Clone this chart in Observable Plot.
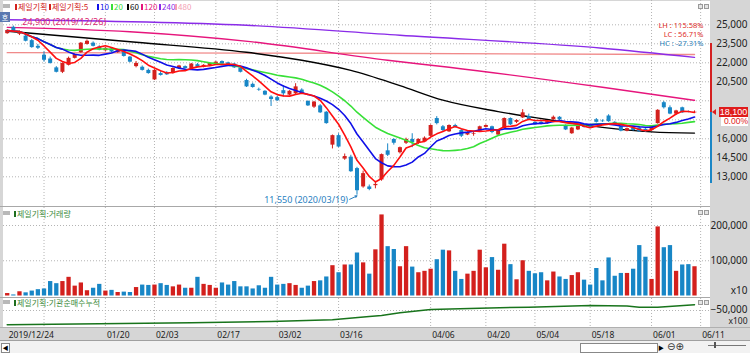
<!DOCTYPE html>
<html><head><meta charset="utf-8">
<script src="https://cdn.jsdelivr.net/npm/d3@7"></script>
<script src="https://cdn.jsdelivr.net/npm/@observablehq/plot@0.6"></script>
<style>
body{margin:0;background:#fff;}
#root{position:relative;width:750px;height:353px;overflow:hidden;background:#d6d6d6;font-family:"Liberation Sans","Noto Sans CJK KR",sans-serif;}
.a{position:absolute;}
.kr{font-family:"Noto Sans CJK KR",sans-serif;white-space:nowrap;}
</style></head><body><div id="root"></div>
<script>
// ---------------- DATA ----------------
const dates = ["2019/12/24","2019/12/26","2019/12/27","2019/12/30",
"2020/01/02","2020/01/03","2020/01/06","2020/01/07","2020/01/08","2020/01/09","2020/01/10","2020/01/13","2020/01/14","2020/01/15","2020/01/16","2020/01/17","2020/01/20","2020/01/21","2020/01/22","2020/01/23","2020/01/28","2020/01/29","2020/01/30","2020/01/31",
"2020/02/03","2020/02/04","2020/02/05","2020/02/06","2020/02/07","2020/02/10","2020/02/11","2020/02/12","2020/02/13","2020/02/14","2020/02/17","2020/02/18","2020/02/19","2020/02/20","2020/02/21","2020/02/24","2020/02/25","2020/02/26","2020/02/27","2020/02/28",
"2020/03/02","2020/03/03","2020/03/04","2020/03/05","2020/03/06","2020/03/09","2020/03/10","2020/03/11","2020/03/12","2020/03/13","2020/03/16","2020/03/17","2020/03/18","2020/03/19","2020/03/20","2020/03/23","2020/03/24","2020/03/25","2020/03/26","2020/03/27","2020/03/30","2020/03/31",
"2020/04/01","2020/04/02","2020/04/03","2020/04/06","2020/04/07","2020/04/08","2020/04/09","2020/04/10","2020/04/13","2020/04/14","2020/04/16","2020/04/17","2020/04/20","2020/04/21","2020/04/22","2020/04/23","2020/04/24","2020/04/27","2020/04/28","2020/04/29",
"2020/05/04","2020/05/06","2020/05/07","2020/05/08","2020/05/11","2020/05/12","2020/05/13","2020/05/14","2020/05/15","2020/05/18","2020/05/19","2020/05/20","2020/05/21","2020/05/22","2020/05/25","2020/05/26","2020/05/27","2020/05/28","2020/05/29",
"2020/06/01","2020/06/02","2020/06/03","2020/06/04","2020/06/05","2020/06/08","2020/06/09","2020/06/10"];

const open = [24300,24800,24250,24100,23750,23300,22600,22300,21600,21250,
21800,22350,22800,23450,23550,23250,22950,23100,22800,22850,
22450,21700,21650,21400,20650,21150,21200,21150,21550,21700,
21550,21850,21650,21750,21900,22100,22000,21900,21600,20600,
20300,19900,19750,19300,19250,19800,19450,19550,19850,18950,
18500,18600,18100,15500,16250,14400,14550,13650,12200,12200,
12300,12750,15050,15950,14900,15650,15950,15650,15750,16200,
17600,16950,16550,17050,16650,16300,16350,16600,16900,16950,
16300,16800,17600,17300,17650,17750,17300,17300,17200,17500,
17700,17050,16400,16700,17050,16950,17500,17400,17800,17300,
16950,16600,16850,16850,16750,16650,17200,18850,18450,17950,
18450,18150,18050];
const high = [24600,24900,24500,24200,23850,23450,22850,22450,21700,22000,
22450,22700,23600,23800,23650,23350,23200,23150,23000,22900,
22500,22100,21750,21500,21450,21300,21300,21600,21800,21750,
21950,21950,21850,22000,22100,22150,22050,21950,21650,20700,
20400,20000,19800,19400,19350,20200,19800,20350,19950,19000,
18950,18700,18150,16300,16400,14800,14700,13750,13450,12350,
12650,14800,15600,16000,15350,16050,16400,16000,16150,17100,
17750,17050,17100,17150,16750,16550,16600,17000,17100,17000,
16700,17650,17650,17500,18300,17950,17350,17400,17400,17800,
17750,17100,16900,17100,17100,17050,17600,17500,17900,17350,
17000,16850,16900,16950,16800,17000,18300,18950,18600,18250,
18500,18200,18200];
const low = [24250,24400,24150,23650,23150,23050,22050,21900,21200,21150,
21750,22300,22750,23400,23250,22950,22900,22800,22750,22450,
22000,21600,21350,21100,20600,20950,21000,21100,21500,21500,
21500,21600,21600,21700,21850,21850,21750,21550,21200,20050,
20000,19750,19400,18550,18950,19300,19400,19500,19500,18550,
18400,18000,17150,15200,15300,14300,13350,11550,12100,11900,
12050,12650,14600,15500,14800,15550,15300,15550,15700,16150,
17100,16550,16500,16850,16100,16250,16200,16550,16850,16400,
16250,16750,17050,17200,17600,17450,17050,17100,17150,17450,
17450,16650,16350,16650,16850,16850,17250,17300,17300,17050,
16550,16550,16600,16500,16500,16600,17150,18350,17900,17850,
18000,18050,18000];
const close = [24550,24450,24400,23700,23200,23150,22200,21950,21250,21950,
22350,22650,23550,23700,23300,23000,23150,22850,22950,22500,
22050,21950,21400,21150,21400,21000,21050,21550,21750,21550,
21900,21650,21800,21950,22050,21900,21800,21600,21250,20100,
20050,19850,19450,19100,19000,19550,19750,20100,19550,18600,
18900,18050,17200,16250,15350,14600,13400,11900,13250,12000,
12400,14750,14700,15650,15300,15950,15700,15950,16050,17050,
17200,16650,17050,16900,16200,16500,16400,16950,17050,16500,
16650,17600,17100,17450,18050,17500,17100,17150,17350,17700,
17500,16700,16850,17050,16900,16900,17300,17350,17350,17100,
16600,16800,16650,16550,16550,16950,18250,18450,17950,18200,
18050,18100,18100];
// volume, in thousands of the axis unit (axis shows x10)
const volume = [7,3,12,9,14,18,20,41,35,41,
53,28,37,15,22,33,14,16,10,11,
10,24,31,30,31,35,30,26,31,22,
22,53,33,30,22,37,31,41,26,26,
20,29,22,53,31,33,35,30,22,28,
41,43,54,86,66,88,88,122,94,62,
131,230,140,132,83,140,82,66,70,76,
103,130,128,70,47,62,70,130,80,109,
73,147,89,46,100,70,63,66,43,68,
54,47,58,66,45,31,78,43,108,56,
64,64,76,143,110,47,196,137,143,70,
88,89,83];

// long moving averages (day index, price)
const ma60Idx  = [0,21,39,48,56,64,71,80,89,97,105,112];
const ma60     = [24490,23620,22830,22200,21400,20200,19050,18150,17450,16900,16550,16450];
const ma120Idx = [0,20,40,62,72,97,112];
const ma120    = [24800,24450,23650,22200,21650,20070,19040];
const ma240Idx = [0,39,64,97,112];
const ma240    = [25400,24960,24170,23150,22430];
const ma480Idx = [0,56,112];
const ma480    = [22800,22750,22650];

// institution net-buy cumulative (x100)
const instIdx = [0,15,30,43,53,59,61,64,69,77,85,95,101,103,106,112];
const inst    = [-78600,-76600,-74600,-72000,-68600,-62000,-60000,-54600,-48000,-45400,-43400,-40000,-41000,-43400,-43400,-38600];

const tickIdx    = [0,16,24,34,44,54,69,78,86,95,105,113];
const tickLabels = ["2019/12/24","01/20","02/03","02/17","03/02","03/16","04/06","04/20","05/04","05/18","06/01","06/11"];
const gridIdx    = [6,16,24,34,44,54,69,78,86,95,105,113];
const priceTicks = [13000,14500,16000,17500,19000,20500,22000,23500,25000];
const volTicks   = [100,200];
const instTicks  = [-50000];
const legendLabels = ["제일기획","제일기획:5","10","20","60","120","240","480"];
const rangeBar = [23550, 12500];

// ---------------- STYLE ----------------
const RED = "#d3201d", BLUE = "#1886c6";
const FONT = '"Liberation Sans","Noto Sans CJK KR",sans-serif';
const C5 = "#ff0f0f", C10 = "#1010e8", C20 = "#38e038", C60 = "#000000", C120 = "#e6157c", C240 = "#8a2be8", C480 = "#f08a8a";
const legendColors = [RED, RED, C10, C20, C60, C120, C240, "#f4a0b4"];
const fmt = d3.format(",");

const candles = close.map((c, i) => ({i, o: open[i], h: high[i], l: low[i], c, v: volume[i], up: c >= open[i]}));
const col = d => d.up ? RED : BLUE;
const X = {type: "linear", domain: [0, 112], range: [6.7, 694.0], axis: null};
const grid = {stroke: "#b4b4b4", strokeOpacity: 1, strokeDasharray: "1,2"};
const axisR = {anchor: "right", tickSize: 0, tickPadding: 0, textAnchor: "end", dx: 37, fill: "#222", label: null};
const pts = (ix, vs) => ix.map((d, k) => ({i: d, v: vs[k]}));

const hiI = d3.maxIndex(high), loI = d3.minIndex(low);
const maxH = high[hiI], minL = low[loI], last = close[close.length - 1];
const pct = v => (v * 100).toFixed(2) + "%";
// the price label box on the axis hides the tick label under it
const priceLabelTicks = priceTicks.filter(t => Math.abs(t - last) > 1000);

const root = document.getElementById("root");
function div(css, html) { const e = document.createElement("div"); e.className = "a"; e.style.cssText = css; if (html != null) e.innerHTML = html; root.appendChild(e); return e; }

// panels
div("left:3px;top:1px;width:707px;height:205px;background:#fff;");
div("left:0;top:206px;width:710px;height:1px;background:#a8a8a8;");
div("left:3px;top:207px;width:707px;height:90px;background:#fff;");
div("left:0;top:297px;width:710px;height:1px;background:#a8a8a8;");
div("left:3px;top:298px;width:707px;height:29px;background:#fff;");
div("left:0;top:327px;width:750px;height:1px;background:#b0b0b0;");

// ---------------- MAIN ----------------
const main = Plot.plot({
  width: 750, height: 206, marginLeft: 3, marginRight: 40, marginTop: 0, marginBottom: 0,
  x: X,
  y: {domain: [13000, 25000], range: [176.3, 24.3], axis: null},
  style: {background: "transparent", fontFamily: FONT, fontSize: "9px", overflow: "visible"},
  marks: [
    Plot.gridY(priceTicks, grid),
    Plot.gridX(gridIdx, grid),
    Plot.axisY(priceLabelTicks, {...axisR, tickFormat: fmt}),
    Plot.line(pts(ma480Idx, ma480), {x: "i", y: "v", stroke: C480, strokeWidth: 1.4, curve: "monotone-x"}),
    Plot.line(pts(ma240Idx, ma240), {x: "i", y: "v", stroke: C240, strokeWidth: 1.4, curve: "monotone-x"}),
    Plot.line(pts(ma120Idx, ma120), {x: "i", y: "v", stroke: C120, strokeWidth: 1.4, curve: "monotone-x"}),
    Plot.line(pts(ma60Idx, ma60), {x: "i", y: "v", stroke: C60, strokeWidth: 1.4, curve: "monotone-x"}),
    Plot.ruleX(candles, {x: "i", y1: "l", y2: "h", stroke: col, strokeWidth: 1}),
    Plot.ruleX(candles, {x: "i", y1: "o", y2: "c", stroke: col, strokeWidth: 4}),
    Plot.lineY(candles, Plot.windowY({k: 20, anchor: "end"}, {x: "i", y: "c", stroke: C20, strokeWidth: 1.6})),
    Plot.lineY(candles, Plot.windowY({k: 10, anchor: "end"}, {x: "i", y: "c", stroke: C10, strokeWidth: 1.6})),
    Plot.lineY(candles, Plot.windowY({k: 5, anchor: "end"}, {x: "i", y: "c", stroke: C5, strokeWidth: 1.6})),
    Plot.text([hiI], {x: d => d, y: d => high[d], text: d => `${fmt(high[d])} (${dates[d]})`, textAnchor: "start", dx: 9, dy: -4, fill: "#dc2a72", fontSize: 9}),
    Plot.text([loI], {x: d => d, y: d => low[d], text: d => `${fmt(low[d])} (${dates[d]})`, textAnchor: "end", dx: -9, dy: 5, fill: "#2a7fbf", fontSize: 9}),
    Plot.arrow([loI], {x1: d => d - 1.2, y1: d => low[d] - 330, x2: d => d, y2: d => low[d] - 60, stroke: "#2a7fbf", strokeWidth: 1, headLength: 3, bend: false}),
    Plot.text([`LH : ${pct(maxH / minL - 1)}`], {frameAnchor: "top-right", text: d => d, textAnchor: "end", dx: -7, dy: 22, fill: "#e0302a", fontSize: 7.5}),
    Plot.text([`LC : ${pct(last / minL - 1)}`], {frameAnchor: "top-right", text: d => d, textAnchor: "end", dx: -7, dy: 31, fill: "#e0302a", fontSize: 7.5}),
    Plot.text([`HC : ${pct(last / maxH - 1)}`], {frameAnchor: "top-right", text: d => d, textAnchor: "end", dx: -7, dy: 40, fill: "#2a80b8", fontSize: 7.5})
  ]
});
main.style.cssText = "position:absolute;left:0;top:0;";
root.appendChild(main);

// ---------------- VOLUME ----------------
const volPlot = Plot.plot({
  width: 750, height: 90, marginLeft: 3, marginRight: 40, marginTop: 0, marginBottom: 0,
  x: X,
  y: {domain: [0, 200], range: [88.5, 18], axis: null},
  style: {background: "transparent", fontFamily: FONT, fontSize: "9px", overflow: "visible"},
  marks: [
    Plot.gridY(volTicks, grid),
    Plot.gridX(gridIdx, grid),
    Plot.axisY(volTicks, {...axisR, tickFormat: d => fmt(d * 1000)}),
    Plot.ruleX(candles, {x: "i", y1: 0, y2: "v", stroke: col, strokeWidth: 4.3}),
    Plot.text(["x10"], {frameAnchor: "bottom-right", text: d => d, textAnchor: "end", dx: 37, dy: -4, fill: "#222"})
  ]
});
volPlot.style.cssText = "position:absolute;left:0;top:207px;";
root.appendChild(volPlot);

// ---------------- INSTITUTION ----------------
const instPlot = Plot.plot({
  width: 750, height: 42, marginLeft: 3, marginRight: 40, marginTop: 0, marginBottom: 13,
  x: X,
  y: {domain: [-84000, -26000], range: [29, 0], axis: null},
  style: {background: "transparent", fontFamily: FONT, fontSize: "8.5px", overflow: "visible"},
  marks: [
    Plot.gridY(instTicks, grid),
    Plot.gridX(gridIdx, grid),
    Plot.axisY(instTicks, {...axisR, tickFormat: fmt, dy: -1}),
    Plot.line(pts(instIdx, inst), {x: "i", y: "v", stroke: "#18741c", strokeWidth: 1.5}),
    Plot.text(["x100"], {frameAnchor: "bottom-right", text: d => d, textAnchor: "end", dx: 37, dy: -3.5, fill: "#222", fontSize: 8.5}),
    Plot.axisX(tickIdx, {anchor: "bottom", tickSize: 0, tickPadding: 4, textAnchor: "start", dx: 1.5, fill: "#222", fontSize: 8.5, label: null,
      tickFormat: d => tickLabels[tickIdx.indexOf(d)]})
  ]
});
instPlot.style.cssText = "position:absolute;left:0;top:298px;";
root.appendChild(instPlot);

// ---------------- OVERLAYS ----------------
const ys = main.scale("y");
// legend
div("left:3px;top:4px;width:7px;height:4px;background:#b8b8b8;");
const legX = [15, 49, 97, 111, 127, 141, 159, 175];
legendLabels.forEach((t, k) => {
  div(`left:${legX[k]}px;top:4px;width:2px;height:6px;background:${legendColors[k]};`);
  div(`left:${legX[k] + 3}px;top:1px;font-size:8px;line-height:11px;color:${legendColors[k]};`, `<span class="kr">${t}</span>`);
});
div("left:0;top:12px;width:10px;height:10px;background:#5a78b0;color:#fff;font-size:7px;line-height:10px;text-align:center;", '<span class="kr">호</span>');
// window icons
[4, 210, 300].forEach(t => {
  div(`left:698px;top:${t}px;width:5px;height:5px;border:1px solid #9a9a9a;background:#e4e4e4;box-sizing:border-box;`);
  div(`left:704px;top:${t}px;width:5px;height:5px;border:1px solid #9a9a9a;background:#e4e4e4;box-sizing:border-box;`);
});
// panel titles
div("left:3px;top:211px;width:7px;height:4px;background:#b8b8b8;");
div("left:14px;top:211px;width:2px;height:6px;background:#1e6e1e;");
div("left:17px;top:208px;font-size:8px;line-height:11px;color:#3a8a3a;", '<span class="kr">제일기획:거래량</span>');
div("left:3px;top:300px;width:7px;height:4px;background:#b8b8b8;");
div("left:14px;top:300px;width:2px;height:6px;background:#1e6e1e;");
div("left:17px;top:297px;font-size:8px;line-height:11px;color:#3a8a3a;", '<span class="kr">제일기획:기관순매수누적</span>');
// range bar on the price axis
const yLast = ys.apply(last);
div(`left:710px;top:${ys.apply(rangeBar[0])}px;width:2px;height:${yLast - ys.apply(rangeBar[0])}px;background:#d42020;`);
div(`left:710px;top:${yLast}px;width:2px;height:${ys.apply(rangeBar[1]) - yLast}px;background:#1a86c6;`);
// last price box
div(`left:712px;top:${yLast - 3}px;width:0;height:0;border-top:3px solid transparent;border-bottom:3px solid transparent;border-right:4px solid #e01c1c;`);
div(`left:719px;top:${yLast - 5}px;width:29px;height:10px;background:#e01c1c;color:#fff;font-size:9px;line-height:10px;text-align:center;`, fmt(last));
div(`left:721px;top:${yLast + 5}px;width:27px;height:9px;background:#fff;color:#e01c1c;font-size:8.5px;line-height:9px;text-align:right;`, "0.00%");
// bottom control row
div("left:0;top:340px;width:750px;height:13px;background:#f2f2f2;border-top:1px solid #a0a0a0;box-sizing:border-box;");
div("left:1px;top:343px;width:9px;height:10px;border:1px solid #888;background:#fff;box-sizing:border-box;font-size:6px;line-height:8px;text-align:center;", "◀");
div("left:580px;top:343px;width:78px;height:10px;border:1px solid #888;background:#fff;box-sizing:border-box;");
div("left:658px;top:343px;width:7px;height:10px;font-size:6px;line-height:10px;", "▶");
div("left:667px;top:341px;font-size:10px;line-height:12px;color:#333;font-family:'DejaVu Sans';", "⊖⊕");
div("left:708px;top:345px;width:38px;height:1px;background:#777;");
div("left:714px;top:342px;width:2px;height:6px;background:#555;");
</script></body></html>
